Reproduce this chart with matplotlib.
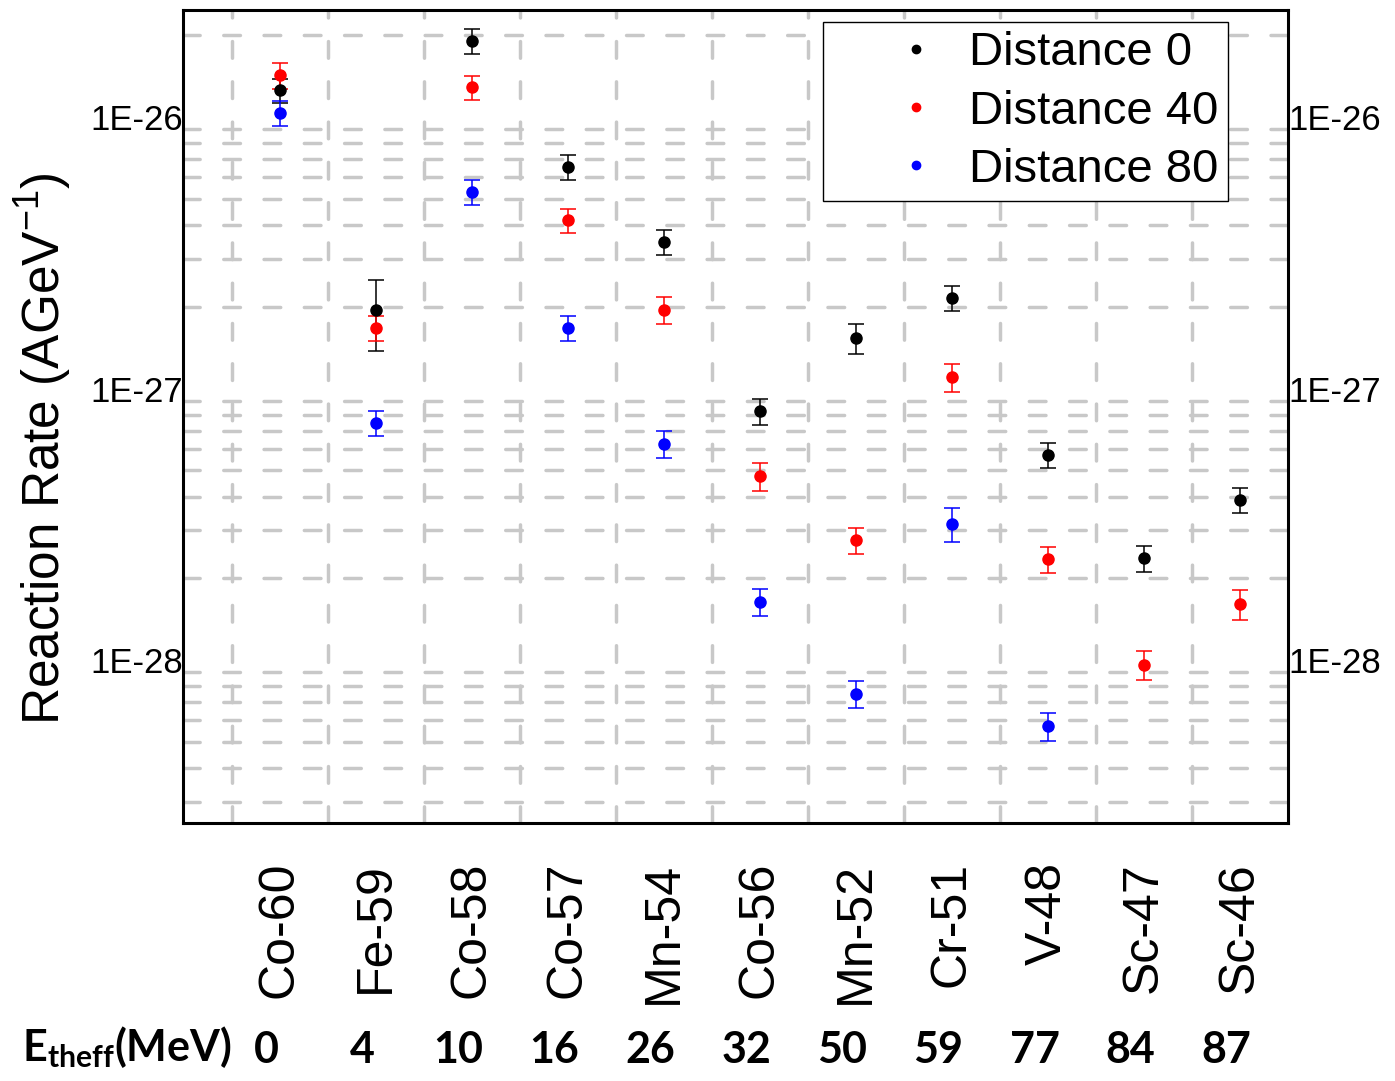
import numpy as np
import matplotlib
matplotlib.use("Agg")
import matplotlib.pyplot as plt
import matplotlib.transforms as mtransforms
from matplotlib.ticker import LogLocator, NullFormatter, FuncFormatter, FixedLocator
from matplotlib.lines import Line2D

plt.rcParams['font.family'] = ['Liberation Sans', 'DejaVu Sans']
plt.rcParams['mathtext.fontset'] = 'custom'
plt.rcParams['mathtext.rm'] = 'Liberation Sans'
plt.rcParams['mathtext.bf'] = 'Lato:bold'

nuclides = ["Co-60", "Fe-59", "Co-58", "Co-57", "Mn-54", "Co-56",
            "Mn-52", "Cr-51", "V-48", "Sc-47", "Sc-46"]
e_theff = [0, 4, 10, 16, 26, 32, 50, 59, 77, 84, 87]
y_major = [1e-28, 1e-27, 1e-26]

# reaction rates (AGeV^-1), with symmetric errors
rate_d0 = [1.257e-26, 1.945e-27, 1.905e-26, 6.54e-27, 3.46e-27, 8.26e-28,
           1.535e-27, 2.155e-27, 5.69e-28, 2.375e-28, 3.88e-28]
err_d0 = [0.127e-26, 0.575e-27, 0.20e-26, 0.68e-27, 0.37e-27, 0.90e-28,
          0.19e-27, 0.23e-27, 0.61e-28, 0.26e-28, 0.41e-28]
rate_d40 = [1.428e-26, 1.671e-27, 1.29e-26, 4.17e-27, 1.945e-27, 4.76e-28,
            2.767e-28, 1.102e-27, 2.355e-28, 9.58e-29, 1.608e-28]
err_d40 = [0.156e-26, 0.175e-27, 0.13e-26, 0.43e-27, 0.22e-27, 0.55e-28,
           0.30e-28, 0.13e-27, 0.26e-28, 1.17e-29, 0.21e-28]
rate_d80 = [1.034e-26, 7.46e-28, 5.29e-27, 1.671e-27, 6.245e-28, 1.635e-28,
            7.49e-29, 3.17e-28, 5.71e-29, np.nan, np.nan]
err_d80 = [0.109e-26, 0.78e-28, 0.56e-27, 0.175e-27, 0.71e-28, 0.185e-28,
           0.85e-29, 0.45e-28, 0.67e-29, np.nan, np.nan]

series = [("Distance 0", rate_d0, err_d0, "black"),
          ("Distance 40", rate_d40, err_d40, "#ff0000"),
          ("Distance 80", rate_d80, err_d80, "#0000ff")]

fig = plt.figure(figsize=(13.95, 10.81), dpi=100)
ax = fig.add_axes([0.1312, 0.2387, 0.7921, 0.7521])

x = np.arange(len(nuclides))
handles = []
for label, rate, err, color in series:
    rate = np.array(rate)
    err = np.array(err)
    ok = ~np.isnan(rate)
    ax.errorbar(x[ok], rate[ok], yerr=err[ok], fmt='o', color=color, ms=8,
                elinewidth=1.1, capsize=6, capthick=1.1, zorder=3)
    handles.append(Line2D([], [], marker='o', ls='none', color=color, ms=6))

ax.set_yscale('log')
ax.set_ylim(2.51e-29, 2.48e-26)
ax.set_xlim(-1.01, 10.5)
ax.yaxis.set_major_locator(FixedLocator(y_major))
ax.yaxis.set_minor_locator(LogLocator(base=10, subs=np.arange(2, 10), numticks=20))
ax.yaxis.set_minor_formatter(NullFormatter())
ax.yaxis.set_major_formatter(FuncFormatter(lambda v, p: "1E%d" % round(np.log10(v))))

ax.set_xticks(x)
ax.set_xticklabels(nuclides, rotation=90, fontsize=36)
ax.set_xticks(np.arange(-0.5, 10, 1), minor=True)

ax.tick_params(which='both', length=0)
ax.tick_params(axis='y', labelsize=25, pad=0, labelright=True)
ax.tick_params(axis='x', pad=28)

# dashed grid only on minor positions
ax.grid(which='minor', color='#c8c8c8', linewidth=2.5,
        linestyle=(0, (4.8, 6.8)), dash_capstyle='round', zorder=0)
ax.set_axisbelow(True)
for sp in ax.spines.values():
    sp.set_linewidth(2.2)

leg = ax.legend(handles, [s[0] for s in series], loc='upper right',
                bbox_to_anchor=(0.9457, 0.9852), borderaxespad=0,
                fontsize=34, fancybox=False, edgecolor='black',
                framealpha=1, handlelength=3.55, handletextpad=-0.65,
                borderpad=0.2, labelspacing=0.3)
leg.get_frame().set_linewidth(1.0)

fig.text(43 / 1395, 0.5847, r"Reaction Rate (AGeV$^{-1}$)", rotation=90,
         ha='center', va='center', fontsize=37)

# E_theff row under the nuclide labels
trans = mtransforms.blended_transform_factory(ax.transData, fig.transFigure)
fig.text(0.0158, 0.031, r"$\mathbf{E_{theff}(MeV)}$", ha='left', va='center',
         fontsize=31)
for i, e in enumerate(e_theff):
    ax.text(i - 0.14, 0.029, str(e), transform=trans, ha='center', va='center',
            fontsize=31, fontweight='bold', family='Lato')

fig.savefig("out.png", dpi=100)
